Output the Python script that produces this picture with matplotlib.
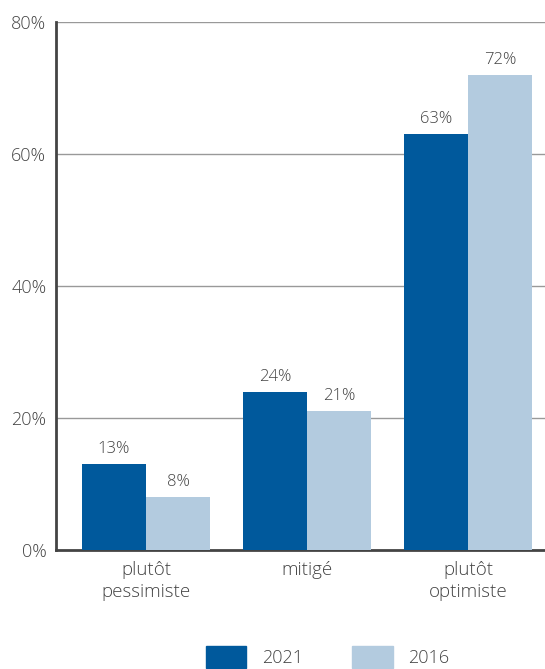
import matplotlib
matplotlib.use("Agg")
import matplotlib.pyplot as plt
import numpy as np
from matplotlib.patches import Patch

categories = ["plutôt\npessimiste", "mitigé", "plutôt\noptimiste"]
series_names = ["2021", "2016"]
values_2021 = [13, 24, 63]
values_2016 = [8, 21, 72]
yticks = [0, 20, 40, 60, 80]
ytick_labels = ["0%", "20%", "40%", "60%", "80%"]

c_dark = "#00599c"
c_light = "#b3cbdf"
txt = "#444444"

plt.rcParams['font.family'] = ['Open Sans', 'DejaVu Sans']

fig = plt.figure(figsize=(5.45, 6.69), dpi=100)
ax = fig.add_axes([56/545, 119/669, 1 - 56/545, (550-22)/669])

x = np.arange(len(categories))
w = 0.40
b1 = ax.bar(x - w/2, values_2021, w, color=c_dark, zorder=3)
b2 = ax.bar(x + w/2, values_2016, w, color=c_light, zorder=3)
for bars, vals in ((b1, values_2021), (b2, values_2016)):
    for r, v in zip(bars, vals):
        ax.annotate(f"{v}%", (r.get_x() + r.get_width()/2, v), xytext=(0, 5),
                    textcoords="offset points", ha="center", va="bottom",
                    fontsize=12, color=txt, fontweight="light")

ax.set_xlim(-0.559, 2.478)
ax.set_ylim(0, 80)
ax.set_yticks(yticks)
ax.set_yticklabels(ytick_labels, fontsize=13, color=txt, fontweight="light")
ax.set_xticks(x)
ax.set_xticklabels(categories, fontsize=13.5, color=txt, linespacing=1.3, fontweight="light")
ax.tick_params(axis="x", length=0, pad=8)
ax.tick_params(axis="y", length=0, pad=7)
for yv in yticks[1:]:
    ax.axhline(yv, color="#999999", lw=1, zorder=1)
ax.spines["top"].set_visible(False)
ax.spines["right"].set_visible(False)
ax.spines["left"].set_color("#444444")
ax.spines["left"].set_linewidth(2)
ax.spines["bottom"].set_color("#444444")
ax.spines["bottom"].set_linewidth(2)

handles = [Patch(color=c_dark), Patch(color=c_light)]
leg = fig.legend(handles, series_names, loc="center", bbox_to_anchor=(0.601, 0.018),
                 ncol=2, frameon=False, fontsize=13, handlelength=2.25, handleheight=1.45,
                 columnspacing=2.75, handletextpad=0.85)
for t in leg.get_texts():
    t.set_color(txt)
    t.set_fontweight("light")

fig.savefig("out.png", dpi=100)
